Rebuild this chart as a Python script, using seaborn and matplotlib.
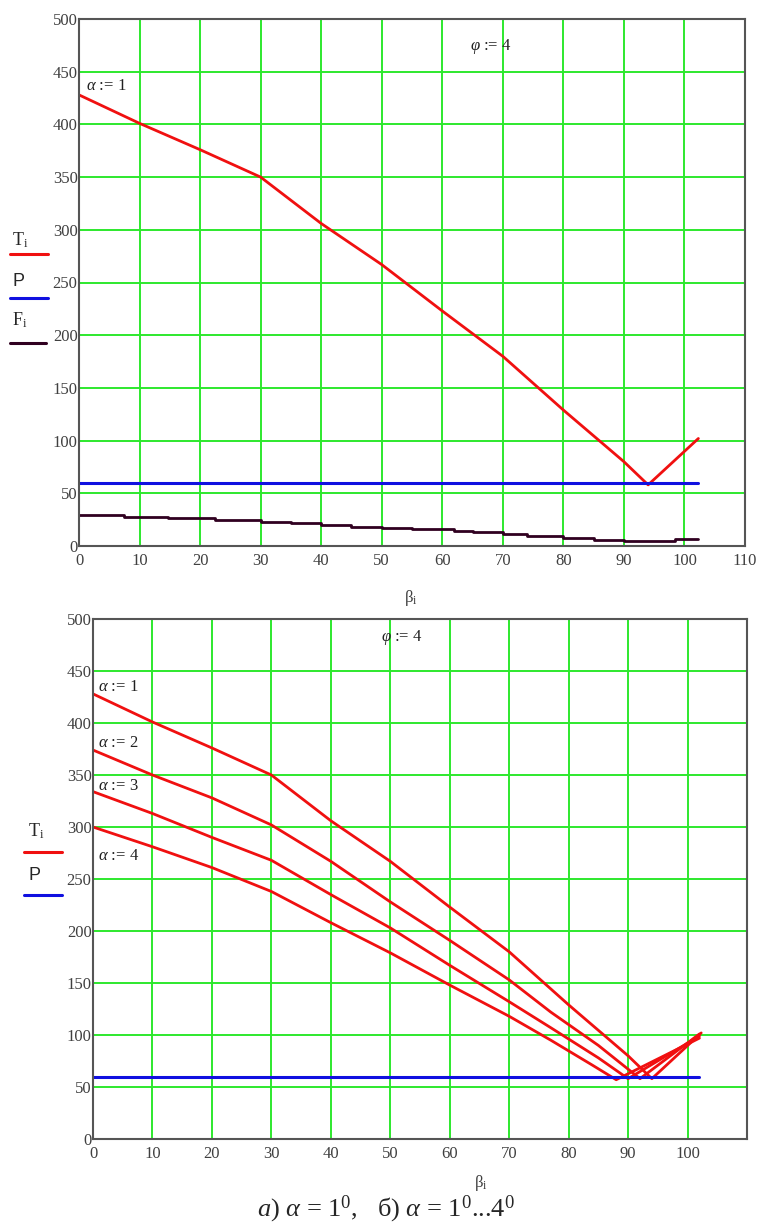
import numpy as np
import matplotlib
matplotlib.use("Agg")
import matplotlib.pyplot as plt
import seaborn as sns
import pandas as pd
from matplotlib.lines import Line2D

# values
beta_t1 = [0, 10, 20, 30, 40, 50, 60, 70, 80, 90, 94, 102.3]
t_a1 = [428, 401, 376, 350, 306, 267, 223, 180, 129, 80, 58, 102]

beta_t2 = [0, 10, 20, 30, 40, 50, 60, 70, 77, 85, 92, 102]
t_a2 = [374, 350, 328, 302, 267, 228, 191, 153, 122, 90, 58, 101]

beta_t3 = [0, 10, 20, 30, 40, 50, 60, 70, 77, 85, 90, 102]
t_a3 = [334, 313, 290, 268, 235, 203, 167, 132, 107, 78, 58, 99]

beta_t4 = [0, 10, 20, 30, 40, 50, 60, 70, 77, 84, 88, 102]
t_a4 = [300, 281, 261, 238, 208, 179, 148, 118, 95, 71, 57, 97]

beta_f = [0, 7.4, 14.7, 22.5, 30, 35, 40, 45, 50, 55, 62, 65, 70, 74, 80, 85, 90, 98.5, 102.3]
f_a1 = [29.5, 27.5, 26.5, 24.5, 23, 21.5, 20, 18.5, 17, 16, 14.5, 13, 11.5, 9.5, 7.5, 5.5, 4.5, 6.5, 6.5]

beta_p = [0, 102.3]
p_val = [60, 60]

x_ticks = list(range(0, 111, 10))
y_ticks = list(range(0, 501, 50))

sns.set_style("white")
plt.rcParams['font.family'] = ['Liberation Serif', 'DejaVu Serif']
plt.rcParams['mathtext.fontset'] = 'custom'
plt.rcParams['mathtext.rm'] = 'Liberation Serif'
plt.rcParams['mathtext.it'] = 'Liberation Serif:italic'

W, H = 762, 1225
fig = plt.figure(figsize=(W / 100, H / 100), dpi=100)


def fx(px):
    return px / W


def fy(py):
    return 1 - py / H


def make_axes(left, top, right, bottom, show_110):
    ax = fig.add_axes([fx(left), fy(bottom), fx(right) - fx(left), fy(top) - fy(bottom)])
    ax.set_xlim(0, 110)
    ax.set_ylim(0, 500)
    ax.set_xticks(x_ticks)
    ax.set_yticks(y_ticks)
    labels = [str(t) for t in x_ticks]
    if not show_110:
        labels[-1] = ""
    ax.set_xticklabels(labels)
    ax.grid(True, color='#2de82d', lw=1.4)
    ax.set_axisbelow(True)
    for s in ax.spines.values():
        s.set_color('#555555')
        s.set_linewidth(1.5)
        s.set_zorder(5)
    ax.tick_params(axis='both', length=0, labelsize=12, labelcolor='#404040')
    ax.tick_params(axis='x', pad=5)
    ax.tick_params(axis='y', pad=1)
    return ax


red = '#f01010'
blue = '#1010e0'
dark = '#300020'

# top panel
ax1 = make_axes(79, 19, 745, 546, True)
df_t = pd.DataFrame({'beta': beta_t1, 'T': t_a1})
df_f = pd.DataFrame({'beta': beta_f, 'F': f_a1})
df_p = pd.DataFrame({'beta': beta_p, 'P': p_val})
sns.lineplot(data=df_t, x='beta', y='T', ax=ax1, color=red, lw=2, estimator=None)
sns.lineplot(data=df_p, x='beta', y='P', ax=ax1, color=blue, lw=2.2, estimator=None)
sns.lineplot(data=df_f, x='beta', y='F', ax=ax1, color=dark, lw=2, estimator=None,
             drawstyle='steps-post')
ax1.set_xlabel("")
ax1.set_ylabel("")
ax1.text(1.2, 436, r"$\alpha$ := 1", fontsize=12, color='#202020', va='center')
ax1.text(64.5, 474, r"$\varphi$ := 4", fontsize=12, color='#202020', va='center')

# bottom panel
ax2 = make_axes(93, 619, 747, 1139, False)
series = [(beta_t1, t_a1), (beta_t2, t_a2), (beta_t3, t_a3), (beta_t4, t_a4)]
for bx, ty in series:
    d = pd.DataFrame({'beta': bx, 'T': ty})
    sns.lineplot(data=d, x='beta', y='T', ax=ax2, color=red, lw=2, estimator=None)
df_p2 = pd.DataFrame({'beta': [0, 102], 'P': p_val})
sns.lineplot(data=df_p2, x='beta', y='P', ax=ax2, color=blue, lw=2.2, estimator=None)
ax2.set_xlabel("")
ax2.set_ylabel("")
for lbl, yv in zip(["1", "2", "3", "4"], [435, 381, 339, 272]):
    ax2.text(0.8, yv, r"$\alpha$ := " + lbl, fontsize=12, color='#202020', va='center')
ax2.text(48.5, 482, r"$\varphi$ := 4", fontsize=12, color='#202020', va='center')

# Mathcad-style labels at the left
fig.text(fx(12), fy(240), r"$\mathrm{T}_\mathrm{i}$", fontsize=13, ha='left', va='center')
fig.add_artist(Line2D([fx(10), fx(48)], [fy(254), fy(254)], color=red, lw=2.2))
fig.text(fx(13), fy(281), "P", fontsize=13, ha='left', va='center', family='Liberation Sans')
fig.add_artist(Line2D([fx(10), fx(48)], [fy(298), fy(298)], color=blue, lw=2.2))
fig.text(fx(12), fy(320), r"$\mathrm{F}_\mathrm{i}$", fontsize=13, ha='left', va='center')
fig.add_artist(Line2D([fx(10), fx(46)], [fy(343), fy(343)], color=dark, lw=2.2))

fig.text(fx(28), fy(831), r"$\mathrm{T}_\mathrm{i}$", fontsize=13, ha='left', va='center')
fig.add_artist(Line2D([fx(24), fx(62)], [fy(852), fy(852)], color=red, lw=2.2))
fig.text(fx(29), fy(876), "P", fontsize=13, ha='left', va='center', family='Liberation Sans')
fig.add_artist(Line2D([fx(24), fx(62)], [fy(895), fy(895)], color=blue, lw=2.2))

# axis labels
fig.text(fx(411), fy(598), r"$\mathrm{\beta}_\mathrm{i}$", fontsize=12, ha='center', va='center',
         color='#404040')
fig.text(fx(481), fy(1183), r"$\mathrm{\beta}_\mathrm{i}$", fontsize=12, ha='center', va='center',
         color='#404040')

# caption
fig.text(fx(386), fy(1209), r"$\it{а)}$ $\it{α}$ = 1$^{0}$,   б) $\it{α}$ = 1$^{0}$...4$^{0}$",
         fontsize=19, ha='center', va='center')

plt.savefig('out.png', dpi=100)
